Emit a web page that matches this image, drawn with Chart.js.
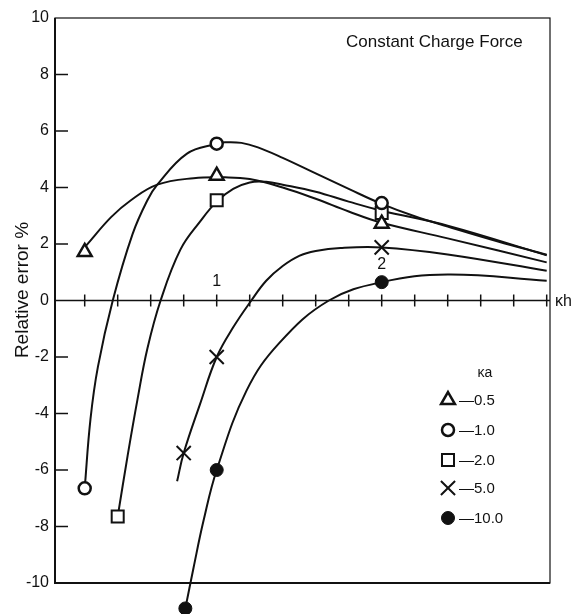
<!DOCTYPE html>
<html>
<head>
<meta charset="utf-8">
<script src="https://cdn.jsdelivr.net/npm/chart.js@4/dist/chart.umd.min.js"></script>
<style>
  html, body { margin: 0; padding: 0; background: #fff; }
  #wrap { width: 572px; height: 614px; }
</style>
</head>
<body>
<div id="wrap"><canvas id="chart" width="572" height="614"></canvas></div>
<script>
// values (x = κh, y = relative error %)
const kaLabels = ['0.5', '1.0', '2.0', '5.0', '10.0'];

// computed points (markers)
const markX05 = [0.2, 1.0, 2.0];   const markY05 = [1.72, 4.42, 2.72];
const markX1  = [0.2, 1.0, 2.0];   const markY1  = [-6.65, 5.55, 3.45];
const markX2  = [0.4, 1.0, 2.0];   const markY2  = [-7.65, 3.55, 3.1];
const markX5  = [0.8, 1.0, 2.0];   const markY5  = [-5.4, -2.0, 1.88];
const markX10 = [0.81, 1.0, 2.0];  const markY10 = [-10.9, -6.0, 0.65];

// curves traced through the picture
const curveX05 = [0.21, 0.36, 0.48, 0.64, 0.86, 1.05, 1.2, 1.4, 1.6, 1.8, 2.0, 2.4, 3.0];
const curveY05 = [1.95, 2.95, 3.55, 4.1, 4.33, 4.36, 4.3, 4.0, 3.6, 3.15, 2.75, 2.2, 1.35];
const curveX1  = [0.2, 0.235, 0.28, 0.37, 0.49, 0.58, 0.64, 0.82, 1.0, 1.05, 1.15, 1.25, 1.4, 1.6, 1.8, 2.0, 2.2, 2.4, 2.7, 3.0];
const curveY1  = [-6.65, -4.2, -2.35, 0, 2.35, 3.55, 4.1, 5.2, 5.55, 5.6, 5.58, 5.42, 5.05, 4.5, 3.95, 3.42, 2.98, 2.62, 2.1, 1.62];
const curveX2  = [0.4, 0.46, 0.52, 0.58, 0.66, 0.78, 0.9, 1.0, 1.1, 1.2, 1.3, 1.4, 1.6, 1.8, 2.0, 2.4, 3.0];
const curveY2  = [-7.65, -5.5, -3.5, -1.7, 0, 1.8, 2.8, 3.5, 3.95, 4.18, 4.2, 4.1, 3.85, 3.5, 3.18, 2.65, 1.6];
const curveX5  = [0.76, 0.8, 0.9, 1.0, 1.1, 1.21, 1.3, 1.4, 1.5, 1.6, 1.75, 2.0, 2.4, 3.0];
const curveY5  = [-6.4, -5.4, -3.65, -2.0, -0.95, 0, 0.7, 1.22, 1.58, 1.75, 1.86, 1.88, 1.63, 1.05];
const curveX10 = [0.81, 0.86, 0.92, 1.0, 1.18, 1.38, 1.68, 2.0, 2.4, 3.0];
const curveY10 = [-10.9, -9.45, -7.8, -6.0, -3.2, -1.5, 0, 0.65, 0.92, 0.7];

const yTicks = [-10, -8, -6, -4, -2, 0, 2, 4, 6, 8, 10];
const xTicks = [0.2, 0.4, 0.6, 0.8, 1.0, 1.2, 1.4, 1.6, 1.8, 2.0, 2.2, 2.4, 2.6, 2.8, 3.0];
const xTickLabels = ['1', '2'];
const xTickLabelAt = [1, 2];

const ink = '#111';
const font = '"Liberation Sans", Arial, Helvetica, sans-serif';

function pts(xs, ys) { return xs.map((v, i) => ({ x: v, y: ys[i] })); }

const markerStyles = [
  { pointStyle: 'triangle', radius: 8,   borderWidth: 2.5, bg: '#fff' },
  { pointStyle: 'circle',   radius: 6,   borderWidth: 2.5, bg: '#fff' },
  { pointStyle: 'rect',     radius: 8.5, borderWidth: 2,   bg: '#fff' },
  { pointStyle: 'crossRot', radius: 10,  borderWidth: 2,   bg: ink },
  { pointStyle: 'circle',   radius: 6.5, borderWidth: 1,   bg: ink }
];

const curves = [[curveX05, curveY05], [curveX1, curveY1], [curveX2, curveY2], [curveX5, curveY5], [curveX10, curveY10]];
const marks  = [[markX05, markY05], [markX1, markY1], [markX2, markY2], [markX5, markY5], [markX10, markY10]];

const datasets = [];
curves.forEach((c, i) => {
  datasets.push({
    label: 'curve ' + kaLabels[i],
    data: pts(c[0], c[1]),
    showLine: true,
    borderColor: ink,
    borderWidth: 2,
    pointRadius: 0,
    tension: 0.4,
    clip: false,
    order: 2
  });
});
marks.forEach((m, i) => {
  const s = markerStyles[i];
  datasets.push({
    label: kaLabels[i],
    data: pts(m[0], m[1]),
    showLine: false,
    pointStyle: s.pointStyle,
    pointRadius: s.radius,
    pointBorderWidth: s.borderWidth,
    pointBorderColor: ink,
    pointBackgroundColor: s.bg,
    clip: false,
    order: 1
  });
});

// frame, inward ticks, zero axis, texts and the κa legend
const decor = {
  id: 'decor',
  afterDatasetsDraw(chart) {
    // markers that sit outside the plot frame (the κa = 10 point below -10)
    const a = chart.chartArea;
    chart.data.datasets.forEach((ds, i) => {
      if (ds.showLine) return;
      chart.getDatasetMeta(i).data.forEach(el => {
        if (el.y > a.bottom + 4 || el.y < a.top - 4) el.draw(chart.ctx);
      });
    });
  },
  afterDraw(chart) {
    const { ctx, chartArea: a, scales: { x, y } } = chart;
    ctx.save();
    ctx.strokeStyle = ink;
    ctx.fillStyle = ink;

    ctx.lineWidth = 1.2;
    ctx.strokeRect(a.left, a.top, a.right - a.left, a.bottom - a.top);
    ctx.lineWidth = 2;
    ctx.beginPath();
    ctx.moveTo(a.left, a.top); ctx.lineTo(a.left, a.bottom); ctx.lineTo(a.right, a.bottom);
    ctx.stroke();

    ctx.lineWidth = 1.5;
    yTicks.forEach(v => {
      if (v === 0 || v === yTicks[0] || v === yTicks[yTicks.length - 1]) return;
      const py = y.getPixelForValue(v);
      ctx.beginPath(); ctx.moveTo(a.left, py); ctx.lineTo(a.left + 13, py); ctx.stroke();
    });

    const y0 = y.getPixelForValue(0);
    ctx.beginPath(); ctx.moveTo(a.left, y0); ctx.lineTo(a.right, y0); ctx.stroke();
    xTicks.forEach(v => {
      const px = x.getPixelForValue(v);
      ctx.beginPath(); ctx.moveTo(px, y0 - 6); ctx.lineTo(px, y0 + 6); ctx.stroke();
    });

    ctx.font = '16px ' + font;
    ctx.textAlign = 'center';
    ctx.textBaseline = 'middle';
    ctx.fillText(xTickLabels[0], x.getPixelForValue(xTickLabelAt[0]), y0 - 19);
    ctx.fillText(xTickLabels[1], x.getPixelForValue(xTickLabelAt[1]), y0 - 36);
    ctx.textAlign = 'left';
    ctx.fillText('\u03bah', a.right + 5, y0 + 1);

    // y axis title
    ctx.save();
    ctx.translate(23, 290);
    ctx.rotate(-Math.PI / 2);
    ctx.font = '19px ' + font;
    ctx.textAlign = 'center';
    ctx.fillText('Relative error %', 0, 0);
    ctx.restore();

    // panel title
    ctx.font = '17px ' + font;
    ctx.textAlign = 'left';
    ctx.fillText('Constant Charge Force', 346, 42);

    // legend
    ctx.font = '14px ' + font;
    ctx.textAlign = 'center';
    ctx.fillText('\u03baa', 485, 373);
    ctx.font = '15px ' + font;
    ctx.textAlign = 'left';
    const legY = [400, 430, 460, 488, 518];
    markerStyles.forEach((s, i) => {
      ctx.lineWidth = s.borderWidth;
      ctx.strokeStyle = ink;
      ctx.fillStyle = s.bg;
      Chart.helpers.drawPoint(ctx, { pointStyle: s.pointStyle, radius: s.radius, rotation: 0, borderWidth: s.borderWidth }, 448, legY[i]);
      ctx.fillStyle = ink;
      ctx.fillText('\u2014' + kaLabels[i], 459, legY[i] + 1);
    });
    ctx.restore();
  }
};

new Chart(document.getElementById('chart'), {
  type: 'scatter',
  data: { datasets },
  options: {
    responsive: false,
    animation: false,
    events: [],
    layout: { padding: { left: 0, right: 22, top: 18, bottom: 31 } },
    plugins: { legend: { display: false }, tooltip: { enabled: false } },
    scales: {
      x: { type: 'linear', min: 0.02, max: 3.02, display: false },
      y: {
        type: 'linear', min: -10, max: 10,
        afterFit(scale) { scale.width = 55; },
        grid: { display: false, drawTicks: false },
        border: { display: false },
        ticks: { stepSize: 2, padding: 6, color: ink, font: { family: font, size: 16 } }
      }
    }
  },
  plugins: [decor]
});
</script>
</body>
</html>
